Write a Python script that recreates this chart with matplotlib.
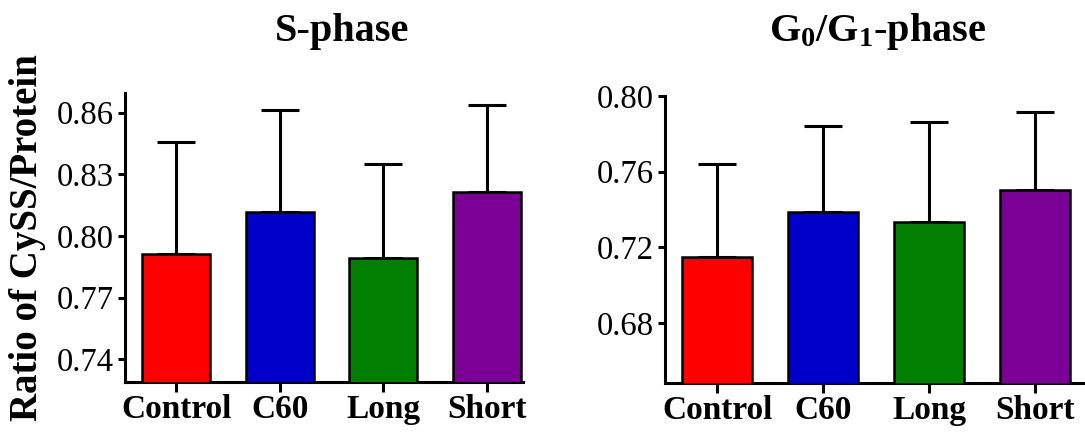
import numpy as np
import matplotlib
matplotlib.use("Agg")
import matplotlib.pyplot as plt

plt.rcParams['font.family'] = ['Liberation Serif', 'DejaVu Serif']
plt.rcParams['mathtext.fontset'] = 'custom'
plt.rcParams['mathtext.rm'] = 'Liberation Serif:bold'
plt.rcParams['mathtext.it'] = 'Liberation Serif:bold'
plt.rcParams['mathtext.bf'] = 'Liberation Serif:bold'

groups = ['Control', 'C60', 'Long', 'Short']
colors = ['#FF0000', '#0000C8', '#007F00', '#7A0096']

# S-phase
s_mean = [0.7912, 0.8117, 0.7895, 0.8213]
s_err = [0.0543, 0.0498, 0.0453, 0.0423]
s_ticks = [0.74, 0.77, 0.80, 0.83, 0.86]

# G0/G1-phase
g_mean = [0.7150, 0.7389, 0.7333, 0.7504]
g_err = [0.0493, 0.0454, 0.0528, 0.0413]
g_ticks = [0.68, 0.72, 0.76, 0.80]

fig = plt.figure(figsize=(10.85, 4.32), dpi=100)
ax1 = fig.add_axes([0.1152, 0.1164, 0.3668, 0.669])
ax2 = fig.add_axes([0.6129, 0.1141, 0.3853, 0.6637])


def draw(ax, mean, err, ticks, ylim, xlim):
    x = np.arange(len(groups))
    ax.bar(x, mean, width=0.66, color=colors, edgecolor='black', linewidth=1.8, zorder=3)
    # only the upper half of the error bar
    ax.errorbar(x, mean, yerr=[np.zeros(len(err)), err], fmt='none', ecolor='black',
                elinewidth=2.2, capsize=14, capthick=2.2, zorder=2)
    ax.set_ylim(ylim)
    ax.set_xlim(xlim)
    ax.set_yticks(ticks)
    ax.set_yticklabels(['%.2f' % t for t in ticks], fontsize=23.5)
    ax.set_xticks(x)
    ax.set_xticklabels(groups, fontsize=24, fontweight='bold')
    for s in ['top', 'right']:
        ax.spines[s].set_visible(False)
    for s in ['left', 'bottom']:
        ax.spines[s].set_linewidth(2.2)
    ax.tick_params(axis='y', length=5, width=2.2, pad=3)
    ax.tick_params(axis='x', length=7, width=2.2, pad=2)


draw(ax1, s_mean, s_err, s_ticks, (0.7291, 0.8697), (-0.495, 3.35))
draw(ax2, g_mean, g_err, g_ticks, (0.6486, 0.80), (-0.493, 3.45))

fig.text(0.315, 0.906, 'S-phase', fontsize=29, fontweight='bold', ha='center', va='baseline')
fig.text(0.809, 0.906, r'G$_0$/G$_1$-phase', fontsize=29, fontweight='bold', ha='center', va='baseline')
fig.text(0.025, 0.449, 'Ratio of CySS/Protein', fontsize=28, fontweight='bold',
         rotation=90, ha='center', va='center')

fig.savefig('out.png', dpi=100)
